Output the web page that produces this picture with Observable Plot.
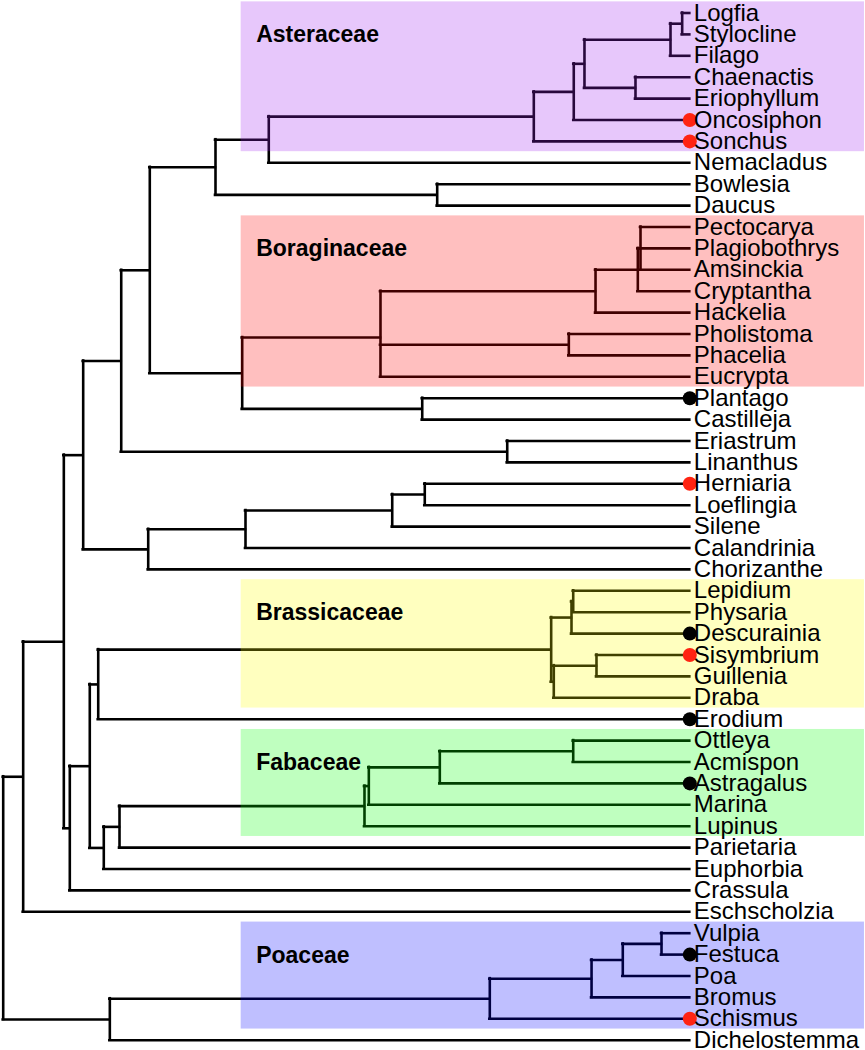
<!DOCTYPE html>
<html><head><meta charset="utf-8">
<script src="https://cdn.jsdelivr.net/npm/d3@7"></script>
<script src="https://cdn.jsdelivr.net/npm/@observablehq/plot@0.6"></script>
<style>html,body{margin:0;padding:0;background:#fff}#chart svg{display:block}</style>
</head><body><div id="chart"></div>
<script>
// Tips, top to bottom
const tipNames = ["Logfia","Stylocline","Filago","Chaenactis","Eriophyllum","Oncosiphon","Sonchus",
  "Nemacladus","Bowlesia","Daucus","Pectocarya","Plagiobothrys","Amsinckia","Cryptantha","Hackelia",
  "Pholistoma","Phacelia","Eucrypta","Plantago","Castilleja","Eriastrum","Linanthus","Herniaria",
  "Loeflingia","Silene","Calandrinia","Chorizanthe","Lepidium","Physaria","Descurainia","Sisymbrium",
  "Guillenia","Draba","Erodium","Ottleya","Acmispon","Astragalus","Marina","Lupinus","Parietaria",
  "Euphorbia","Crassula","Eschscholzia","Vulpia","Festuca","Poa","Bromus","Schismus","Dichelostemma"];
const tipParents = ["AST5","AST5","AST4","AST6","AST6","AST2","AST",
  "N7","API","API","BOR3","BOR3","BOR3","BOR2","BOR1",
  "BOR4","BOR4","BOR","LAM","LAM","POL","POL","CAR3",
  "CAR3","CAR2","CAR1","CAR","BRA2","BRA2","BRA1","BRA4",
  "BRA4","BRA3","R3","FAB3","FAB3","FAB2","FAB1","FAB","R5",
  "R4","R1","N1","POA3","POA3","POA2","POA1","POA","MON"];
const tipDepth = 100;

// Internal nodes: relative depth from the root (root = 0, tips = 100)
const nodeIds = ["N0","N1","N2","N3","N4","N5","N6","N7","AST","AST2","AST3","AST4","AST5","AST6","API",
  "N8","BOR","BOR1","BOR2","BOR3","BOR4","LAM","POL","CAR","CAR1","CAR2","CAR3",
  "R1","R2","R3","BRA","BRA1","BRA2","BRA3","BRA4","R4","R5","FAB","FAB1","FAB2","FAB3",
  "MON","POA","POA1","POA2","POA3"];
const nodeParents = [null,"N0","N1","N2","N3","N4","N5","N6","N7","AST","AST2","AST3","AST4","AST3","N6",
  "N5","N8","BOR","BOR1","BOR2","BOR","N8","N4","N3","CAR","CAR1","CAR2",
  "N2","R1","R2","R3","BRA","BRA1","BRA","BRA3","R2","R4","R5","FAB","FAB1","FAB2",
  "N0","MON","POA","POA1","POA2"];
const nodeDepths = [0,2.91,8.83,11.65,17.19,21.35,30.92,38.68,77.28,83.10,84.66,97.19,98.89,92.09,63.21,
  34.81,54.95,86.27,92.43,92.82,82.38,61.03,73.41,21.12,35.29,56.66,61.40,
  9.70,12.61,13.84,79.81,82.77,83.02,80.19,86.41,14.65,16.94,52.62,53.25,63.59,83.02,
  15.53,70.87,85.69,90.24,95.88];

// Marked tips
const dotTips = ["Oncosiphon","Sonchus","Plantago","Herniaria","Descurainia","Sisymbrium","Erodium","Astragalus","Festuca","Schismus"];
const dotKinds = ["red","red","black","red","black","red","black","black","black","red"];

// Families (first and last tip)
const familyNames = ["Asteraceae","Boraginaceae","Brassicaceae","Fabaceae","Poaceae"];
const familyFirst = ["Logfia","Pectocarya","Lepidium","Ottleya","Vulpia"];
const familyLast = ["Sonchus","Eucrypta","Draba","Lupinus","Schismus"];

const familyColor = {Asteraceae:"#a020f0", Boraginaceae:"#ff0000", Brassicaceae:"#ffff00", Fabaceae:"#00ff00", Poaceae:"#0000ff"};
const dotColor = {red:"#ff2412", black:"#000000"};

// ---- build tree geometry
const pos = new Map(); // id -> {x, y}
const children = new Map();
nodeIds.forEach(id => children.set(id, []));
tipNames.forEach((t, i) => { pos.set(t, {x: tipDepth, y: i}); children.get(tipParents[i]).push(t); });
nodeIds.forEach((id, i) => { if (nodeParents[i]) children.get(nodeParents[i]).push(id); });
const depthOf = new Map(nodeIds.map((id, i) => [id, nodeDepths[i]]));
function place(id) {
  if (pos.has(id)) return pos.get(id);
  const ys = children.get(id).map(c => place(c).y);
  const p = {x: depthOf.get(id), y: d3.mean(ys), y1: d3.min(ys), y2: d3.max(ys)};
  pos.set(id, p);
  return p;
}
place("N0");
const parentOf = new Map();
tipNames.forEach((t, i) => parentOf.set(t, tipParents[i]));
nodeIds.forEach((id, i) => { if (nodeParents[i]) parentOf.set(id, nodeParents[i]); });

const hsegs = [...parentOf.entries()].map(([id, par]) => ({x1: pos.get(par).x, x2: pos.get(id).x, y: pos.get(id).y}));
const vsegs = nodeIds.map(id => ({x: pos.get(id).x, y1: pos.get(id).y1, y2: pos.get(id).y2}));
const tips = tipNames.map((t, i) => ({name: t, y: i}));
const dots = dotTips.map((t, i) => ({y: tipNames.indexOf(t), kind: dotKinds[i]}));
const families = familyNames.map((f, i) => ({name: f, first: tipNames.indexOf(familyFirst[i]), last: tipNames.indexOf(familyLast[i])}));

const bandStart = 34.66, bandEnd = 125.44;
const font = "Liberation Sans, Arial, Helvetica, sans-serif";

const chart = Plot.plot({
  width: 865, height: 1050,
  margin: 0,
  x: {domain: [0, 100], range: [2.7, 689.3], axis: null},
  y: {domain: [0, 48], range: [12.5, 1039.7], axis: null},
  style: {fontFamily: font, background: "#fff"},
  marks: [
    Plot.ruleY(hsegs, {y: "y", x1: "x1", x2: "x2", stroke: "#000", strokeWidth: 2.6, strokeLinecap: "square"}),
    Plot.ruleX(vsegs, {x: "x", y1: "y1", y2: "y2", stroke: "#000", strokeWidth: 2.6, strokeLinecap: "square"}),
    Plot.rect(families, {x1: () => bandStart, x2: () => bandEnd, y1: d => d.first - 0.52, y2: d => d.last + 0.48,
      fill: d => familyColor[d.name], fillOpacity: 0.25}),
    Plot.dot(dots, {x: () => tipDepth, y: "y", r: 7, fill: d => dotColor[d.kind], stroke: null}),
    Plot.text(tips, {x: () => tipDepth, y: "y", text: "name", dx: 4, textAnchor: "start", lineAnchor: "middle",
      fontSize: 24, fill: "#000", fontFamily: font}),
    Plot.text(families, {x: () => bandStart, y: d => d.first + 1.37, text: "name", dx: 15, textAnchor: "start",
      lineAnchor: "bottom", fontSize: 23, fontWeight: "bold", fill: "#000", fontFamily: font})
  ]
});
document.getElementById("chart").appendChild(chart);
</script>
</body></html>
